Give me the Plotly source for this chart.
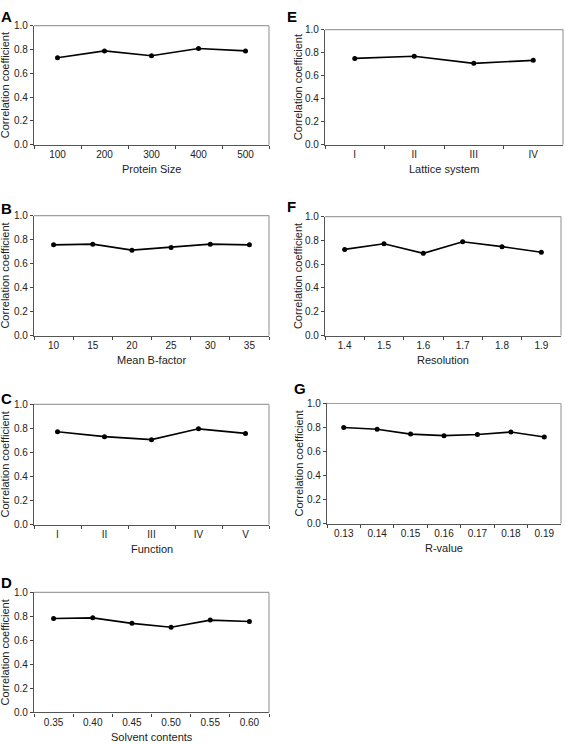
import plotly.graph_objects as go

# ---- data ----
size_cats = ["100", "200", "300", "400", "500"]
size_vals = [0.731, 0.788, 0.747, 0.808, 0.788]

bfac_cats = ["10", "15", "20", "25", "30", "35"]
bfac_vals = [0.756, 0.762, 0.712, 0.734, 0.762, 0.756]

func_cats = ["I", "II", "III", "IV", "V"]
func_vals = [0.773, 0.732, 0.707, 0.797, 0.759]

solv_cats = ["0.35", "0.40", "0.45", "0.50", "0.55", "0.60"]
solv_vals = [0.783, 0.788, 0.742, 0.709, 0.769, 0.758]

latt_cats = ["I", "II", "III", "IV"]
latt_vals = [0.750, 0.768, 0.707, 0.733]

res_cats = ["1.4", "1.5", "1.6", "1.7", "1.8", "1.9"]
res_vals = [0.724, 0.771, 0.691, 0.788, 0.747, 0.700]

rval_cats = ["0.13", "0.14", "0.15", "0.16", "0.17", "0.18", "0.19"]
rval_vals = [0.800, 0.786, 0.745, 0.732, 0.742, 0.762, 0.721]

panels = [
    ("A", "Protein Size", size_cats, size_vals),
    ("B", "Mean B-factor", bfac_cats, bfac_vals),
    ("C", "Function", func_cats, func_vals),
    ("D", "Solvent contents", solv_cats, solv_vals),
    ("E", "Lattice system", latt_cats, latt_vals),
    ("F", "Resolution", res_cats, res_vals),
    ("G", "R-value", rval_cats, rval_vals),
]

W, H = 565, 744
# plot boxes in pixels: (left, right, top, bottom)
boxes = {
    "A": (34, 269, 20, 141),
    "B": (34, 269, 213, 335),
    "C": (34, 269, 405, 527),
    "D": (34, 269, 596, 718),
    "E": (325, 563, 24, 141),
    "F": (325, 561, 214, 335),
    "G": (327, 561, 404, 526),
}
# panel letter positions (center px)
letters = {
    "A": (6, 11), "B": (6, 206), "C": (6, 399), "D": (6, 586),
    "E": (292, 11), "F": (291, 204), "G": (300, 389),
}

FONT = "Liberation Sans, Arial, sans-serif"
fig = go.Figure()
layout = dict(
    width=W, height=H, margin=dict(l=0, r=0, t=0, b=0),
    paper_bgcolor="white", plot_bgcolor="white", showlegend=False,
    font=dict(family=FONT, size=10, color="#222"),
)
annotations = []
shapes = []

for i, (letter, xtitle, cats, vals) in enumerate(panels):
    n = i + 1
    xa = "x" if n == 1 else f"x{n}"
    ya = "y" if n == 1 else f"y{n}"
    L, R, T, B = boxes[letter]
    fig.add_trace(go.Scatter(
        x=cats, y=vals, xaxis=xa, yaxis=ya, mode="lines+markers",
        line=dict(color="black", width=1.6),
        marker=dict(color="black", size=5, symbol="circle"),
        hoverinfo="skip",
    ))
    xkey = "xaxis" if n == 1 else f"xaxis{n}"
    ykey = "yaxis" if n == 1 else f"yaxis{n}"
    layout[xkey] = dict(
        domain=[L / W, R / W], anchor=ya, type="category",
        categoryorder="array", categoryarray=cats,
        range=[-0.5, len(cats) - 0.5], tickson="boundaries",
        ticks="outside", ticklen=3, tickcolor="#444", tickwidth=1,
        showline=True, linecolor="#555", linewidth=1.2,
        showgrid=False, zeroline=False,
        tickfont=dict(size=10, color="#222", family=FONT),
        fixedrange=True,
    )
    layout[ykey] = dict(
        domain=[1 - B / H, 1 - T / H], anchor=xa,
        range=[0, 1.0], dtick=0.2, tick0=0, tickformat=".1f",
        ticks="outside", ticklen=3, tickcolor="#444", tickwidth=1,
        showline=True, linecolor="#555", linewidth=1.2,
        showgrid=False, zeroline=False,
        tickfont=dict(size=10, color="#222", family=FONT),
        fixedrange=True,
    )
    # gray frame top/right
    shapes.append(dict(type="line", xref=f"{xa} domain", yref=f"{ya} domain",
                       x0=0, x1=1, y0=1, y1=1, line=dict(color="#a0a0a0", width=1.2)))
    shapes.append(dict(type="line", xref=f"{xa} domain", yref=f"{ya} domain",
                       x0=1, x1=1, y0=0, y1=1, line=dict(color="#a0a0a0", width=1.2)))
    # x title
    cx = (L + R) / 2
    annotations.append(dict(text=xtitle, xref="paper", yref="paper",
                            x=cx / W, y=1 - (B + 25) / H, showarrow=False,
                            xanchor="center", yanchor="middle",
                            font=dict(size=11, color="#222", family=FONT)))
    # y title
    ytx = 5 if L < 100 else 298
    annotations.append(dict(text="Correlation coefficient", xref="paper", yref="paper",
                            x=ytx / W, y=1 - ((T + B) / 2) / H, showarrow=False,
                            textangle=-90, xanchor="center", yanchor="middle",
                            font=dict(size=11, color="#222", family=FONT)))
    lx, ly = letters[letter]
    annotations.append(dict(text=f"<b>{letter}</b>", xref="paper", yref="paper",
                            x=lx / W, y=1 - ly / H, showarrow=False,
                            xanchor="center", yanchor="middle",
                            font=dict(size=15, color="black", family=FONT)))

layout["annotations"] = annotations
layout["shapes"] = shapes
fig.update_layout(**layout)
fig.write_html("out.html")
